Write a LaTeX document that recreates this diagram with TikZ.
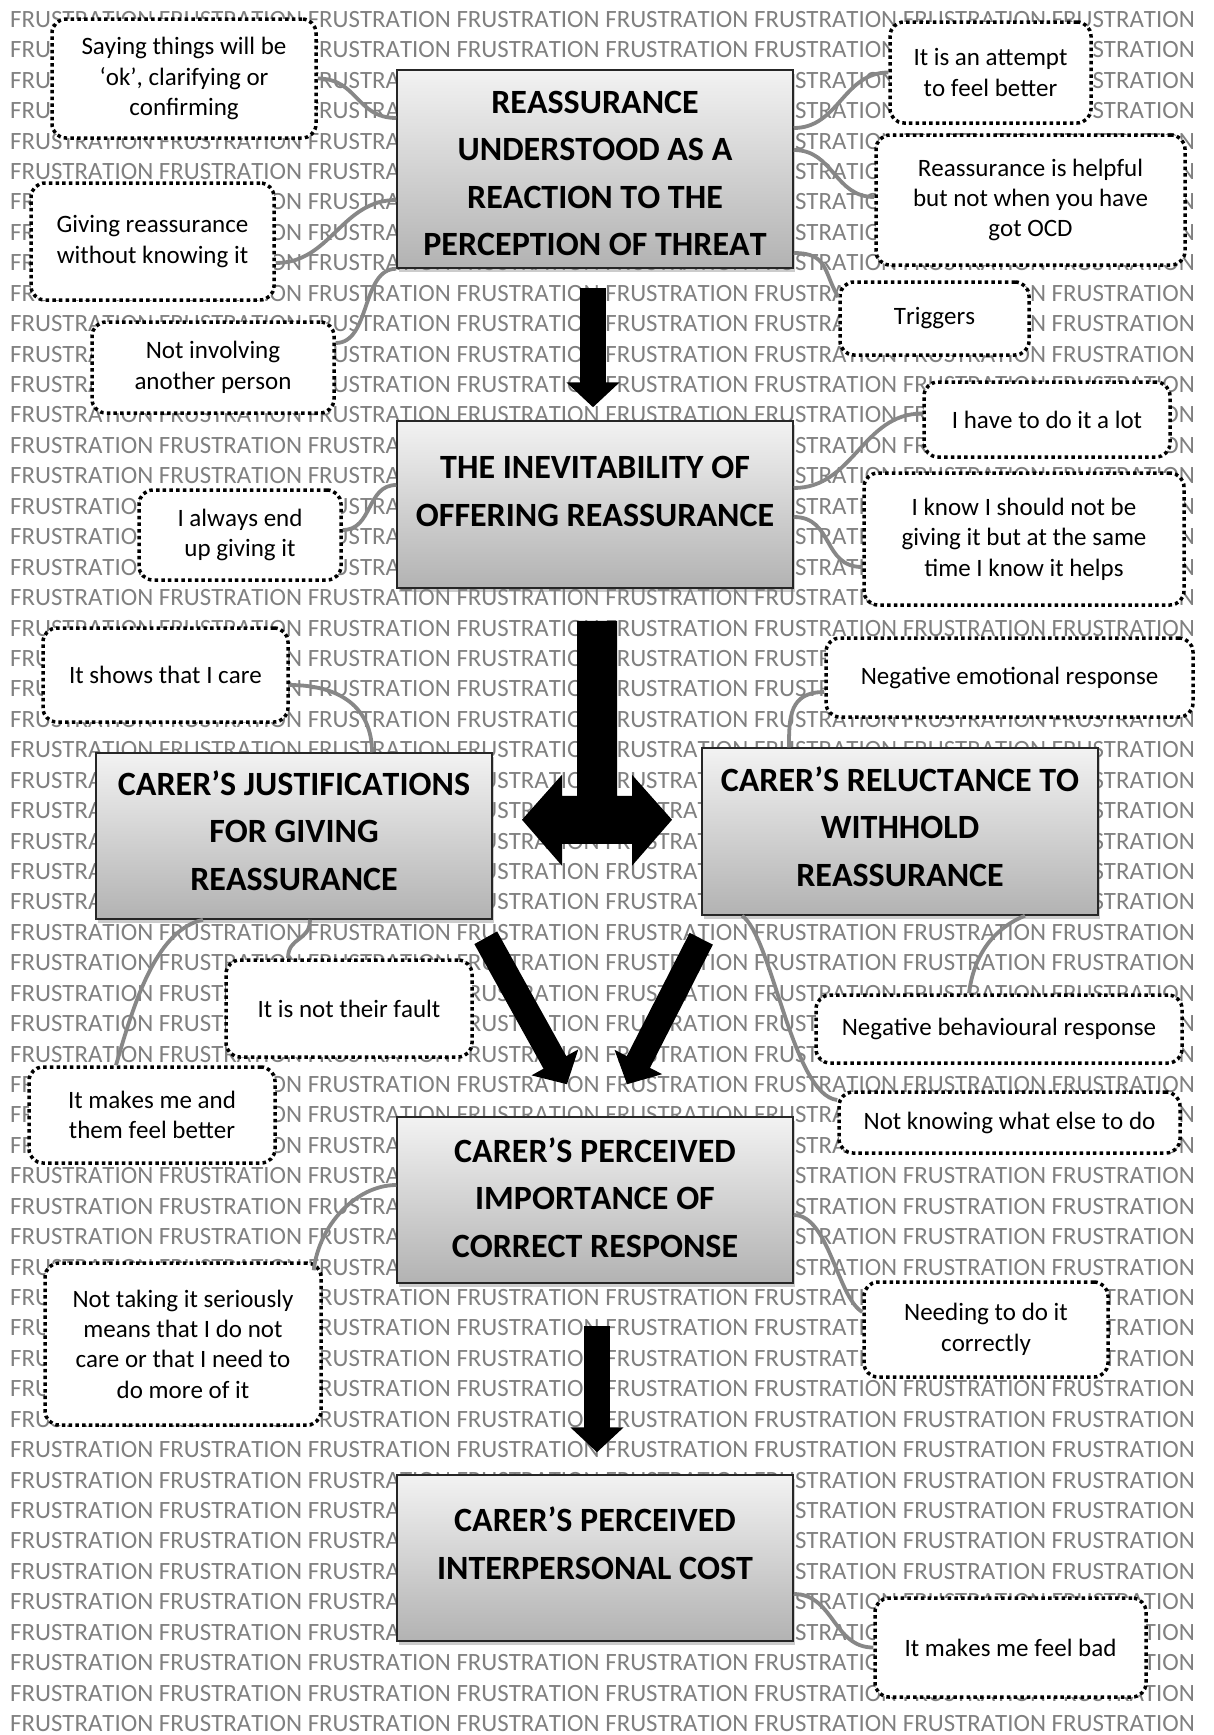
\documentclass[tikz,border=0pt]{standalone}
\usepackage{fontspec}
\setmainfont{Carlito}[Kerning=Off]
\usetikzlibrary{calc,shadows,arrows.meta}
\newcommand\frline{FRUSTRATION FRUSTRATION FRUSTRATION FRUSTRATION FRUSTRATION FRUSTRATION FRUSTRATION FRUSTRATION}
\newcommand\myconn[6]{\coordinate (p) at (#1); \coordinate (q) at (#4);
  \draw[link] (p) .. controls ($(p)+(#2,#3)$) and ($(q)+(#5,#6)$) .. (q);}
\begin{document}
\begin{tikzpicture}[x=1pt,y=-1pt,
  bgtext/.style={anchor=base west, inner sep=0pt, text=black!50, font=\fontsize{24.86}{30}\selectfont},
  mainbox/.style={draw=black!85, line width=1.5pt, top color=black!5, bottom color=black!30, minimum width=396pt, inner sep=0pt,
     drop shadow={shadow xshift=1.5pt, shadow yshift=-4pt, opacity=0.4}},
  maintext/.style={align=center, inner sep=0pt, font=\fontsize{34}{47.6}\selectfont\bfseries},
  subbox/.style={draw=black, fill=white, line width=3.5pt, dash pattern=on 3.5pt off 3.2pt, rounded corners=14pt, align=center, inner sep=0pt, font=\fontsize{25}{30.4}\selectfont},
  sz/.style 2 args={minimum width=#1pt, minimum height=#2pt},
  link/.style={draw=black!47, line width=3.8pt},
  bigarrow/.style={line width=26pt, -{Triangle[width=52pt,length=25pt]}},
]
\useasboundingbox (0,0) rectangle (1214,1735);
\fill[white] (0,0) rectangle (1214,1735);
% background text
\foreach \i in {0,...,56}{
  \node[bgtext] (bg\i) at (10, 27.4+30.43*\i) {\frline};
}
% main boxes
\node[mainbox, minimum height=198pt] (m1) at (595,169) {};
\node[maintext] (t1) at (595,173.5) {REASSURANCE\\UNDERSTOOD AS A\\REACTION TO THE\\PERCEPTION OF THREAT};
\node[mainbox, minimum height=167pt] (m2) at (595,504.5) {};
\node[maintext] (t2) at (595,491.5) {THE INEVITABILITY OF\\OFFERING REASSURANCE};
\node[mainbox, minimum height=166pt] (m3) at (294,836) {};
\node[maintext] (t3) at (294,830.5) {CARER’S JUSTIFICATIONS\\FOR GIVING\\REASSURANCE};
\node[mainbox, minimum height=167pt] (m4) at (900,831.5) {};
\node[maintext] (t4) at (900,826.5) {CARER’S RELUCTANCE TO\\WITHHOLD\\REASSURANCE};
\node[mainbox, minimum height=166pt] (m5) at (595,1200) {};
\node[maintext] (t5) at (595,1197.5) {CARER’S PERCEIVED\\IMPORTANCE OF\\CORRECT RESPONSE};
\node[mainbox, minimum height=166pt] (m6) at (595,1558) {};
\node[maintext] (t6) at (595,1543.5) {CARER’S PERCEIVED\\INTERPERSONAL COST};
% sub boxes
\node[subbox, sz={264}{119}] (sa) at (184,78.5) {Saying things will be\\‘ok’, clarifying or\\confirming};
\node[subbox, sz={243}{117}] (sb) at (152.5,241.5) {Giving reassurance\\without knowing it};
\node[subbox, sz={242}{91}] (sc) at (213,367.5) {Not involving\\another person};
\node[subbox, sz={201}{101}] (sd) at (990.5,72.5) {It is an attempt\\to feel better};
\node[subbox, sz={309}{130}] (se) at (1030.5,200) {Reassurance is helpful\\but not when you have\\got OCD};
\node[subbox, sz={189}{73}] (sf) at (934.5,318.5) {Triggers};
\node[subbox, sz={246}{75}] (sg) at (1047,419.5) {I have to do it a lot};
\node[subbox, sz={320}{132}] (sh) at (1024,539) {I know I should not be\\giving it but at the same\\time I know it helps};
\node[subbox, sz={202}{90}] (si) at (240,535) {I always end\\up giving it};
\node[subbox, sz={245}{94}] (sj) at (165.5,675) {It shows that I care};
\node[subbox, sz={367}{79}] (sk) at (1009.5,677.5) {Negative emotional response};
\node[subbox, sz={246}{97}] (sl) at (349,1008.5) {It is not their fault};
\node[subbox, sz={246}{96}] (sm) at (152,1115) {It makes me and\\them feel better};
\node[subbox, sz={366}{68}] (sn) at (999,1029) {Negative behavioural response};
\node[subbox, sz={341}{61}] (so) at (1009.5,1122.5) {Not knowing what else to do};
\node[subbox, sz={276}{162}] (sp) at (183,1344) {Not taking it seriously\\means that I do not\\care or that I need to\\do more of it};
\node[subbox, sz={244}{95}] (sq) at (986,1329.5) {Needing to do it\\correctly};
\node[subbox, sz={271}{99}] (sr) at (1010.5,1647.5) {It makes me feel bad};
% grey connectors
\myconn{sa.east}{40}{0}{$(m1.west)+(0,-51)$}{-40}{0}
\myconn{$(sb.east)+(0,21.5)$}{55}{0}{$(m1.west)+(0,31)$}{-55}{0}
\myconn{$(sc.east)+(0,-24.5)$}{35}{0}{m1.south west}{-35}{0}
\myconn{$(m1.east)+(0,-41)$}{45}{0}{sd.west}{-45}{0}
\myconn{$(m1.east)+(0,-19)$}{40}{0}{$(se.west)+(0,-3)$}{-40}{0}
\myconn{$(m1.east)+(0,84)$}{35}{0}{$(sf.west)+(0,-21.5)$}{-15}{-25}
\myconn{$(si.east)+(0,-5)$}{30}{0}{$(m2.west)+(0,-19.5)$}{-30}{0}
\myconn{$(m2.east)+(0,-16.5)$}{60}{0}{$(sg.west)+(0,-6)$}{-60}{0}
\myconn{$(m2.east)+(0,12.5)$}{40}{0}{$(sh.west)+(0,28)$}{-40}{0}
\myconn{$(sj.east)+(0,10)$}{50}{0}{$(m3.north)+(78,0)$}{0}{-45}
\myconn{$(sk.west)+(0,14.5)$}{-35}{0}{$(m4.north)+(-111,0)$}{0}{-30}
\myconn{$(m3.south)+(16,0)$}{0}{22}{$(sl.north)+(-61,0)$}{0}{-22}
\myconn{$(m3.south)+(-91,0)$}{-45}{10}{$(sm.north)+(-36,0)$}{20}{-70}
\myconn{$(m4.south)+(125,0)$}{-30}{12}{$(sn.north)+(-30,0)$}{5}{-40}
\myconn{$(m4.south)+(-158,0)$}{30}{20}{$(so.west)+(0,-22.5)$}{-45}{-5}
\myconn{$(sp.north east)+(-9,9)$}{5}{-45}{$(m5.west)+(0,-15)$}{-40}{0}
\myconn{$(m5.east)+(0,15)$}{35}{0}{$(sq.west)+(0,-17.5)$}{-25}{-15}
\myconn{$(m6.east)+(0,36)$}{40}{0}{sr.west}{-40}{0}
% black arrows
\draw[bigarrow] ($(m1.south)+(-2,19)$) -- ($(m2.north)+(-2,-13)$);
\begin{scope}[shift={($(m2.south)+(2,0)$)}]
  \fill[black] (-20,32) -- (20,32) -- (20,207) -- (35,207) -- (35,186) -- (75,231) -- (35,277) -- (35,255)
     -- (-35,255) -- (-35,277) -- (-75,231) -- (-35,186) -- (-35,207) -- (-20,207) -- cycle;
\end{scope}
\draw[bigarrow] ($(m3.south east)+(-7,18)$) -- ($(m5.north)+(-28,-32)$);
\draw[bigarrow] ($(m4.south west)+(0,23)$) -- ($(m5.north)+(32,-32)$);
\draw[bigarrow] ($(m5.south)+(2,42)$) -- ($(m6.north)+(2,-22)$);
\end{tikzpicture}
\end{document}
